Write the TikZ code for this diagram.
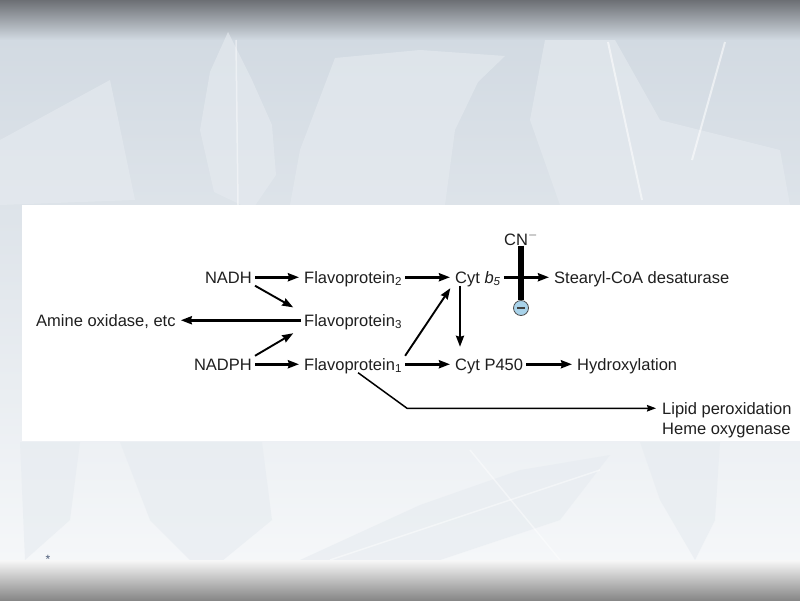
\documentclass[tikz,border=0pt]{standalone}
\usepackage{fontspec}
\setmainfont{Liberation Sans}
\usetikzlibrary{arrows.meta}
\definecolor{bartop}{HTML}{6C6F74}
\definecolor{bgtop}{HTML}{D2DAE2}
\definecolor{bgbot}{HTML}{F5F7F9}
\definecolor{leaf}{HTML}{E6EBF0}
\definecolor{inhblue}{HTML}{A9D3EA}
\definecolor{starblue}{HTML}{4A5A78}

\begin{document}
\begin{tikzpicture}[x=1pt, y=-1pt,
  every node/.style={font=\fontsize{16.5}{19}\selectfont, text=black!88,
    inner xsep=3pt, inner ysep=2pt, text height=12pt, text depth=0.5pt},
  arr/.style={line width=2.6pt, -{Stealth[length=11pt,width=8pt,inset=1pt]},
    shorten >=2pt},
  diag/.style={line width=1.9pt},
  thinarr/.style={line width=1.5pt, -{Stealth[length=9pt,width=6.5pt,inset=1pt]},
    shorten >=3pt}]
  \useasboundingbox (0,0) rectangle (800,600);
  \fill[top color=bgtop, bottom color=bgbot] (0,38) rectangle (800,560);
  \fill[top color=bartop, bottom color=bgtop] (0,0) rectangle (800,40);
  \foreach \pts in {
      {(228,32) (252,80) (272,125) (276,175) (252,210) (214,192) (200,130) (210,72)},
      {(335,58) (420,50) (505,56) (478,82) (455,130) (445,205) (290,205) (300,150)},
      {(545,40) (615,40) (660,120) (780,150) (790,205) (560,205) (530,120)},
      {(0,140) (110,80) (135,200) (0,205)},
      {(120,442) (262,442) (272,520) (205,575) (150,520)},
      {(300,560) (420,505) (520,470) (610,455) (560,520) (440,560)},
      {(640,442) (720,442) (715,520) (695,560) (660,500)},
      {(20,442) (80,442) (70,520) (25,560)}} {
    \fill[leaf, opacity=0.6] plot coordinates {\pts} -- cycle;
  }
  \draw[white, line width=2pt, opacity=0.55] (608,42) -- (642,200);
  \draw[white, line width=2pt, opacity=0.55] (725,42) -- (692,160);
  \draw[white, line width=1.5pt, opacity=0.45] (236,40) -- (238,205);
  \draw[white, line width=1.5pt, opacity=0.45] (470,450) -- (560,560);
  \draw[white, line width=1.5pt, opacity=0.45] (330,560) -- (600,470);
  \fill[top color=white!97!black, bottom color=black!47!white] (0,560) rectangle (800,600);
  \fill[white] (22,205) rectangle (800,441);

  \node[anchor=base east] (nadh) at (255,283) {NADH};
  \node[anchor=base east] (nadph) at (255,370) {NADPH};
  \node[anchor=base west] (fp2) at (301,283) {Flavoprotein\textsubscript{2}};
  \node[anchor=base west] (fp3) at (301,326) {Flavoprotein\textsubscript{3}};
  \node[anchor=base west] (fp1) at (301,370) {Flavoprotein\textsubscript{1}};
  \node[anchor=base west] (amine) at (33,326) {Amine oxidase, etc};
  \node[anchor=base west] (b5) at (452,283) {Cyt \textit{b}\textsubscript{\textit{5}}};
  \node[anchor=base west] (scd) at (551,283) {Stearyl-CoA desaturase};
  \node[anchor=base west] (p450) at (452,370) {Cyt P450};
  \node[anchor=base west] (hydrox) at (574,370) {Hydroxylation};
  \node[anchor=base west] (lipid) at (659,414) {Lipid peroxidation};
  \node[anchor=base west] (heme) at (659,434) {Heme oxygenase};
  \node[anchor=base] (cn) at (521,245) {CN$^{-}$};
  \node[circle, draw=black!70, line width=0.8pt, fill=inhblue, minimum size=15pt,
    inner sep=0pt, text height=0pt, text depth=0pt] (inh) at (521,308) {};
  \coordinate (bend) at (407,0);

  \draw[arr] (nadh) -- (fp2);
  \draw[arr] (nadph) -- (fp1);
  \draw[arr, diag, shorten >=9pt] (nadh.south east) -- (fp3.north west);
  \draw[arr, diag, shorten >=9pt] (nadph.north east) -- (fp3.south west);
  \draw[arr] (fp3) -- (amine);
  \draw[arr] (fp2) -- (b5);
  \draw[arr] (fp1) -- (p450);
  \draw[arr, diag, shorten >=3pt] (fp1.north east) -- (b5.south west);
  \draw[arr, line width=2.2pt, shorten >=9pt] ([xshift=8pt]b5.south west) -- ([xshift=8pt]p450.north west);
  \draw[arr] (b5) -- (scd);
  \draw[arr] (p450) -- (hydrox);
  \draw[thinarr] ([xshift=5pt]fp1.south) -- (bend |- lipid.west) -- (lipid.west);
  \draw[line width=6pt] ([yshift=2pt]cn.south) -- (inh.north);
  \draw[line width=1.3pt, black!75] ([xshift=-4pt]inh.center) -- ([xshift=4pt]inh.center);

  \node[anchor=base, font=\fontsize{12}{13}\selectfont, text=starblue,
    text height=8pt, text depth=0pt] (star) at (48,563) {*};
\end{tikzpicture}
\end{document}
